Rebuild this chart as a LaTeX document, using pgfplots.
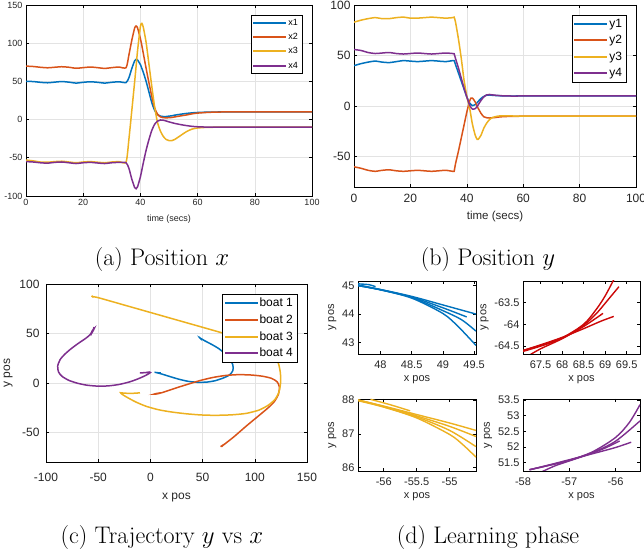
\documentclass[border=0pt]{standalone}
\usepackage{fontspec}
\usepackage{pgfplots}
\pgfplotsset{compat=1.18}
\usepackage{pgfplotstable}
\newfontfamily\hv{Liberation Sans}
\definecolor{mblue}{rgb}{0,0.447,0.741}
\definecolor{morange}{rgb}{0.851,0.325,0.098}
\definecolor{myellow}{rgb}{0.929,0.694,0.125}
\definecolor{mpurple}{rgb}{0.494,0.184,0.556}
\definecolor{mred}{rgb}{0.8,0.03,0.03}
\definecolor{tickgray}{gray}{0.15}

\pgfplotstableread{
t x1 x2 x3 x4
0 50 70 -53 -55
2.5 49.8 69.5 -54 -55.5
5 48.8 68.5 -55.5 -56.5
7.5 48.2 67.8 -55.8 -57
10 49 68.5 -55 -56
12.5 49.8 69.2 -54.5 -55.5
15 49 68.5 -55.5 -56.5
17.5 47.8 67.2 -56.5 -57.5
20 48.8 68 -55.5 -56.5
22.5 49.5 68.8 -55 -56
25 48.8 68 -55.8 -56.8
27.5 47.8 67 -56.5 -57.5
30 48.8 68 -55.5 -56.5
32.5 49.5 68.8 -55 -56
35 48.5 68 -55.5 -56.5
36 55 85 -25 -64
37 67 104 12 -78
38 77 120 50 -89
38.5 79 122.5 70 -90.5
39 78 120 90 -88
40 72 106 122 -75
40.5 67 97 126 -66
41 62 87 121 -57
42 50 67 101 -40
43 36 48 72 -26
44 22 30 43 -14
45 12 15 16 -6
46 6.5 7 -4 -2
47 4.5 3.5 -15 -0.5
48 4 2.5 -22 -0.8
49 4 2.3 -26 -1.8
50 4.5 2.5 -27.5 -3
51 5 2.8 -27.5 -4
52 5.8 3.5 -26 -5
54 7 4.8 -21 -6.5
56 8 6 -16 -7.8
58 8.8 7.5 -12.5 -8.8
60 9.3 8.5 -11 -9.4
63 9.7 9.3 -10.2 -9.8
66 9.9 9.8 -10 -10
70 10 10 -10 -10
80 10 10 -10 -10
90 10 10 -10 -10
100 10 10 -10 -10
}\tabA

\pgfplotstableread{
t y1 y2 y3 y4
0 40 -60 83 56
2.5 42 -61.5 85 55
5 43.5 -63.5 86.5 53
7.5 44.5 -64.5 87.5 52
10 43.5 -63.5 86.5 52.5
12.5 43 -63 86.5 53
15 44 -64 87.5 52
17.5 45 -64.5 88 51.5
20 44.5 -64 87 52
22.5 44 -63.5 87 52.5
25 44.5 -64 87.5 52
27.5 45 -64.5 88 51.5
30 44.5 -64 87.5 52
32.5 44 -63.5 87 52.5
35 45 -64.5 87.5 52
35.5 45 -64.5 88 51.8
36 41 -57 83 47
37 33 -45 67 38
38 25 -32 48 28
39 17 -19 26 18
40 9 -6 10 9
41 3 5 -2 1
41.5 1.5 8 -10 -1.5
42 0.5 8 -18 -3
43 1.5 4 -29 -2.5
43.7 3.5 -0.5 -33 -0.2
44 4.5 -2 -33 1
45 7.5 -7 -29 5.5
46 9.5 -10.5 -22 9
47 10.8 -11.5 -17 11
48 11 -11.8 -13.5 11.5
49 10.7 -11.5 -11.5 11.1
50 10.5 -11.3 -10.5 10.8
52 10.2 -10.6 -9.6 10.3
55 10 -10.2 -9.7 10
60 10 -10 -10 10
70 10 -10 -10 10
100 10 -10 -10 10
}\tabB

\pgfplotsset{
  mstyle/.style={
    scale only axis,
    axis line style={black, line width=0.7pt},
    tick align=inside,
    xtick pos=both, ytick pos=both,
    major tick length=3pt,
    every tick/.style={black, line width=0.6pt},
    /pgf/number format/assume math mode=true,
    every axis plot/.append style={line width=1.5pt},
    grid style={gray!22, line width=0.6pt},
    legend cell align=left,
    legend image code/.code={\fill[##1, draw=none] (0pt,-1pt) rectangle (33pt,1pt);},
    ticklabel style={text=tickgray},
    label style={text=tickgray},
  },
  dstyle/.style={
    mstyle, width=118pt, height=73pt,
    ticklabel style={font=\hv\fontsize{11}{12}\selectfont},
    label style={font=\hv\fontsize{11}{12}\selectfont},
    xticklabel style={yshift=-3pt},
    xlabel={x pos}, ylabel={y pos},
    ylabel style={yshift=-1pt},
    every axis plot/.append style={smooth, line width=1.4pt},
  }
}

\begin{document}
\begin{tikzpicture}[x=1pt,y=1pt]
\path[use as bounding box] (0,0) rectangle (644,556);

% (a)
\begin{axis}[mstyle, at={(26pt,360pt)}, anchor=south west,
  width=286pt, height=191pt,
  xmin=0, xmax=100, ymin=-100, ymax=150,
  xtick={0,20,40,60,80,100}, ytick={-100,-50,0,50,100,150},
  grid=major,
  ticklabel style={font=\hv\fontsize{9}{10}\selectfont},
  xlabel={time (secs)}, xlabel style={font=\hv\fontsize{9}{10}\selectfont, yshift=-2pt},
  legend style={at={(0.965,0.948)}, anchor=north east, draw=black,
    font=\hv\fontsize{9}{10}\selectfont, row sep=2.5pt, inner sep=2pt},
  every axis plot/.append style={smooth, tension=0.4},
]
\addplot[mblue] table[x=t,y=x1]{\tabA};
\addplot[morange] table[x=t,y=x2]{\tabA};
\addplot[myellow] table[x=t,y=x3]{\tabA};
\addplot[mpurple] table[x=t,y=x4]{\tabA};
\legend{x1,x2,x3,x4}
\end{axis}

% (b)
\begin{axis}[mstyle, at={(354pt,369pt)}, anchor=south west,
  width=282pt, height=182pt,
  xmin=0, xmax=100, ymin=-80, ymax=100,
  xtick={0,20,40,60,80,100}, ytick={-50,0,50,100},
  grid=major,
  ticklabel style={font=\hv\fontsize{12}{13}\selectfont},
  xticklabel style={yshift=-4pt},
  xlabel={time (secs)}, xlabel style={font=\hv\fontsize{11.5}{13}\selectfont, yshift=-1pt},
  legend style={at={(0.965,0.945)}, anchor=north east, draw=black,
    font=\hv\fontsize{12}{13}\selectfont, row sep=2.5pt, inner sep=2pt},
  every axis plot/.append style={smooth, tension=0.4},
]
\addplot[mblue] table[x=t,y=y1]{\tabB};
\addplot[morange] table[x=t,y=y2]{\tabB};
\addplot[myellow] table[x=t,y=y3]{\tabB};
\addplot[mpurple] table[x=t,y=y4]{\tabB};
\legend{y1,y2,y3,y4}
\end{axis}

% (c)
\begin{axis}[mstyle, at={(46pt,94pt)}, anchor=south west,
  width=261pt, height=178pt,
  xmin=-100, xmax=150, ymin=-80, ymax=100,
  xtick={-100,-50,0,50,100,150}, ytick={-50,0,50,100},
  grid=major,
  ticklabel style={font=\hv\fontsize{12}{13}\selectfont},
  xticklabel style={yshift=-8pt}, yticklabel style={xshift=-3pt},
  xlabel={x pos}, ylabel={y pos},
  label style={font=\hv\fontsize{12}{13}\selectfont},
  xlabel style={yshift=-4pt},
  legend style={at={(0.962,0.944)}, anchor=north east, draw=black,
    font=\hv\fontsize{12}{13}\selectfont, row sep=2.5pt, inner sep=2pt},
  every axis plot/.append style={smooth, tension=0.4},
]
\addplot[mblue] coordinates {(46.5,46.5) (49.5,43.2) (47.8,45.2) (52,42.6) (58,39.3) (65,35) (71,30) (76,24.5) (79,18) (79,12.5) (76,8.2) (70,5) (62,2.2) (54,0.8) (45,0.6) (36,1.6) (27,3.8) (19,6.3) (12,8.6) (7,10.1) (4,10.8) (6,10.4) (10,10)};
\addplot[morange] coordinates {(67.2,-64.5) (69.2,-63.1) (68.2,-64.4) (70,-62.8) (80,-54.5) (92,-43.5) (104,-33) (113,-25) (119,-18.5) (122.8,-11) (123.5,-4) (121.5,1) (116,4.6) (107,6.8) (96,8) (84,8.3) (72,7.5) (60,5.5) (48,2.5) (37,-1) (27,-4.3) (18,-7.5) (11,-9.9) (6,-11.2) (3.5,-11.4) (6,-10.7) (10,-10)};
\addplot[myellow] coordinates {(-56.4,88) (-54.6,86.5) (-56.2,88) (-54.6,87) (-50,86.2) (-20,77.2) (20,65.2) (64,52) (88,44.5) (106,37) (117,29) (122.5,20) (124.5,10) (124.7,0) (123.2,-9) (119.5,-16.5) (113,-22.5) (104,-27.5) (92,-30.8) (78,-32.3) (62,-32.8) (48,-32.4) (34,-31.2) (20,-29.4) (8,-27.2) (-4,-23.7) (-14,-19.3) (-22,-14.8) (-27,-11.6) (-28.5,-10) (-26,-10.3) (-20,-10.6) (-14,-10.4) (-10,-10)};
\addplot[mpurple] coordinates {(-54,56.5) (-55,52.5) (-53.8,55) (-55.5,53) (-57.5,49) (-62,45) (-69,40) (-76,34.5) (-82,29) (-86.5,23.5) (-88.8,17) (-88,11) (-84.5,6.5) (-78,2.5) (-70,-0.3) (-61,-2.3) (-50,-3.3) (-40,-3) (-30,-1.6) (-20,1) (-12,4) (-6,6.8) (-2,9) (0,10.5) (-1,11) (-4,10.5) (-10,10)};
\legend{boat 1,boat 2,boat 3,boat 4}
\end{axis}

% (d) top left
\begin{axis}[dstyle, at={(358pt,202pt)}, anchor=south west,
  xmin=47.64, xmax=49.53, ymin=42.6, ymax=45.16,
  xtick={48,48.5,49,49.5}, ytick={43,44,45}]
\addplot[mblue] coordinates {(47.64,45.0) (48.0,44.86) (48.5,44.62) (49.0,44.32) (49.53,44.0)};
\addplot[mblue] coordinates {(47.64,45.02) (48.0,44.86) (48.5,44.6) (49.0,44.22) (49.38,43.9)};
\addplot[mblue] coordinates {(47.64,45.0) (48.0,44.85) (48.5,44.58) (49.0,44.12) (49.3,43.8) (49.53,43.4)};
\addplot[mblue] coordinates {(47.64,45.0) (48.0,44.85) (48.5,44.56) (49.0,44.02) (49.25,43.55) (49.53,42.9)};
\addplot[mblue] coordinates {(47.64,45.06) (47.82,45.03) (47.92,44.96)};
\end{axis}

% (d) top right
\begin{axis}[dstyle, at={(523pt,202pt)}, anchor=south west, width=117pt,
  xmin=67.09, xmax=69.81, ymin=-64.68, ymax=-63.01,
  xtick={67.5,68,68.5,69,69.5}, ytick={-64.5,-64,-63.5}]
\addplot[mred] coordinates {(67.09,-64.6) (67.5,-64.48) (68.0,-64.31) (68.5,-64.0) (68.8,-63.65) (69.0,-63.35) (69.2,-62.98)};
\addplot[mred] coordinates {(67.09,-64.62) (67.5,-64.5) (68.0,-64.32) (68.5,-64.02) (68.8,-63.75) (69.1,-63.4) (69.32,-63.14)};
\addplot[mred] coordinates {(67.25,-64.7) (67.5,-64.56) (68.0,-64.33) (68.5,-64.05) (68.95,-63.75)};
\addplot[mred] coordinates {(67.09,-64.6) (67.5,-64.47) (68.0,-64.3) (68.5,-64.1) (68.9,-63.93) (69.2,-63.82)};
\end{axis}

% (d) bottom left
\begin{axis}[dstyle, at={(358pt,85pt)}, anchor=south west, height=72pt,
  xmin=-56.39, xmax=-54.6, ymin=85.9, ymax=88.03,
  xtick={-56,-55.5,-55}, ytick={86,87,88}]
\addplot[myellow] coordinates {(-56.39,88.0) (-56.0,87.82) (-55.5,87.57) (-55.0,87.32) (-54.6,87.1)};
\addplot[myellow] coordinates {(-56.39,88.0) (-56.0,87.81) (-55.5,87.53) (-55.0,87.22) (-54.6,86.92)};
\addplot[myellow] coordinates {(-56.39,88.0) (-56.0,87.8) (-55.5,87.5) (-55.0,87.1) (-54.6,86.62)};
\addplot[myellow] coordinates {(-56.39,87.98) (-56.0,87.79) (-55.5,87.47) (-55.0,86.98) (-54.8,86.68) (-54.6,86.31)};
\addplot[myellow] coordinates {(-56.2,88.02) (-55.9,87.86) (-55.6,87.68)};
\end{axis}

% (d) bottom right
\begin{axis}[dstyle, at={(523pt,85pt)}, anchor=south west, width=117pt, height=72pt,
  xmin=-58, xmax=-55.47, ymin=51.23, ymax=53.53,
  xtick={-58,-57,-56}, ytick={51.5,52,52.5,53,53.5}]
\addplot[mpurple] coordinates {(-57.86,51.27) (-57.5,51.39) (-57.0,51.57) (-56.5,51.84) (-56.0,52.3) (-55.7,52.78) (-55.47,53.35)};
\addplot[mpurple] coordinates {(-57.86,51.27) (-57.5,51.39) (-57.0,51.57) (-56.5,51.82) (-56.0,52.18) (-55.47,52.83)};
\addplot[mpurple] coordinates {(-57.6,51.2) (-57.3,51.4) (-57.0,51.55) (-56.5,51.8) (-56.2,51.98) (-55.91,52.19)};
\addplot[mpurple] coordinates {(-57.86,51.27) (-57.5,51.4) (-57.0,51.59) (-56.5,51.78) (-56.0,51.98) (-55.66,52.15)};
\end{axis}

% captions
\node[anchor=base, font=\fontsize{24}{28}\selectfont] at (162,290) {(a) Position $x$};
\node[anchor=base, font=\fontsize{24}{28}\selectfont] at (488,290) {(b) Position $y$};
\node[anchor=base, font=\fontsize{24}{28}\selectfont] at (162,13) {(c) Trajectory $y$ vs $x$};
\node[anchor=base, font=\fontsize{24}{28}\selectfont] at (488,13) {(d) Learning phase};
\end{tikzpicture}
\end{document}
